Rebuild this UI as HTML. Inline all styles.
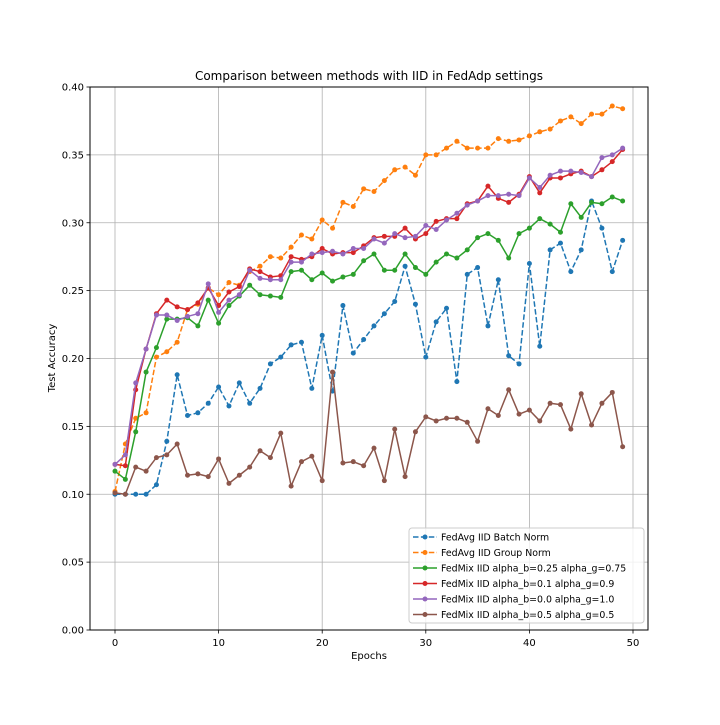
<!DOCTYPE html>
<html><head><meta charset="utf-8"><style>
body{margin:0;background:#fff;font-family:"Liberation Sans","DejaVu Sans",sans-serif}
svg text{font-family:"DejaVu Sans","Liberation Sans",sans-serif}
</style></head><body>
<svg id="chart" width="720" height="720" viewBox="0 0 720 720">
<rect width="720" height="720" fill="#fff"/>
<g id="grid"></g>
<g id="series"></g>
<rect x="90" y="87" width="558" height="543" fill="none" stroke="#000" stroke-width="1"/>
<g id="ticks"></g>
<text x="369" y="80" text-anchor="middle" font-size="12">Comparison between methods with IID in FedAdp settings</text>
<text x="369" y="659" text-anchor="middle" font-size="10">Epochs</text>
<text x="55" y="358" text-anchor="middle" font-size="10" transform="rotate(-90 55 358)">Test Accuracy</text>
<g id="legend"></g>
</svg>
<script>
const xTicks=[0,10,20,30,40,50];
const yTicks=[0.00,0.05,0.10,0.15,0.20,0.25,0.30,0.35,0.40];
const seriesNames=["FedAvg IID Batch Norm","FedAvg IID Group Norm","FedMix IID alpha_b=0.25 alpha_g=0.75","FedMix IID alpha_b=0.1 alpha_g=0.9","FedMix IID alpha_b=0.0 alpha_g=1.0","FedMix IID alpha_b=0.5 alpha_g=0.5"];
const batchNorm=[0.100,0.100,0.100,0.100,0.107,0.139,0.188,0.158,0.160,0.167,0.179,0.165,0.182,0.167,0.178,0.196,0.201,0.210,0.212,0.178,0.217,0.176,0.239,0.204,0.214,0.224,0.233,0.242,0.268,0.240,0.201,0.227,0.237,0.183,0.262,0.267,0.224,0.258,0.202,0.196,0.270,0.209,0.280,0.285,0.264,0.280,0.316,0.296,0.264,0.287];
const groupNorm=[0.102,0.137,0.156,0.160,0.201,0.205,0.212,0.236,0.240,0.252,0.247,0.256,0.254,0.264,0.268,0.275,0.274,0.282,0.291,0.288,0.302,0.296,0.315,0.312,0.325,0.323,0.331,0.339,0.341,0.335,0.350,0.350,0.355,0.360,0.355,0.355,0.355,0.362,0.360,0.361,0.364,0.367,0.369,0.375,0.378,0.373,0.380,0.380,0.386,0.384];
const mix025=[0.117,0.111,0.146,0.190,0.208,0.229,0.229,0.230,0.224,0.243,0.226,0.239,0.246,0.254,0.247,0.246,0.245,0.264,0.265,0.258,0.263,0.257,0.260,0.262,0.272,0.277,0.265,0.265,0.277,0.267,0.262,0.271,0.277,0.274,0.280,0.289,0.292,0.287,0.274,0.292,0.296,0.303,0.299,0.293,0.314,0.304,0.315,0.314,0.319,0.316];
const mix01=[0.122,0.121,0.177,0.207,0.233,0.243,0.238,0.236,0.241,0.252,0.239,0.249,0.253,0.266,0.264,0.260,0.261,0.275,0.273,0.275,0.281,0.277,0.278,0.278,0.283,0.289,0.290,0.290,0.296,0.288,0.292,0.301,0.303,0.303,0.314,0.316,0.327,0.318,0.315,0.321,0.334,0.322,0.333,0.333,0.336,0.338,0.334,0.339,0.345,0.354];
const mix00=[0.122,0.129,0.182,0.207,0.232,0.232,0.228,0.231,0.233,0.255,0.234,0.243,0.247,0.265,0.259,0.258,0.258,0.271,0.271,0.277,0.278,0.279,0.277,0.281,0.281,0.288,0.285,0.292,0.289,0.290,0.298,0.295,0.302,0.307,0.313,0.316,0.320,0.320,0.321,0.320,0.333,0.326,0.335,0.338,0.338,0.337,0.334,0.348,0.350,0.355];
const mix05=[0.101,0.100,0.120,0.117,0.127,0.129,0.137,0.114,0.115,0.113,0.126,0.108,0.114,0.120,0.132,0.127,0.145,0.106,0.124,0.128,0.110,0.190,0.123,0.124,0.121,0.134,0.110,0.148,0.113,0.146,0.157,0.154,0.156,0.156,0.153,0.139,0.163,0.158,0.177,0.159,0.162,0.154,0.167,0.166,0.148,0.174,0.151,0.167,0.175,0.135];
const allSeries=[batchNorm,groupNorm,mix025,mix01,mix00,mix05];
const colors=["#1f77b4","#ff7f0e","#2ca02c","#d62728","#9467bd","#8c564b"];
const dashed=[true,true,false,false,false,false];
const slugs=["fedavg-batch-norm","fedavg-group-norm","fedmix-025-075","fedmix-01-09","fedmix-00-10","fedmix-05-05"];
const NS="http://www.w3.org/2000/svg";
const X0=90,X1=648,Y0=87,Y1=630;
function xs(v){return 115+v*(633-115)/50;}
function ys(v){return 630-v*(630-87)/0.40;}
function mk(tag,at,parent){const e=document.createElementNS(NS,tag);for(const k in at)e.setAttribute(k,at[k]);parent.appendChild(e);return e;}
const grid=document.getElementById('grid'),ticks=document.getElementById('ticks'),ser=document.getElementById('series'),leg=document.getElementById('legend');
xTicks.forEach(t=>{const x=xs(t);
 const g=mk('line',{x1:x,x2:x,y1:Y0,y2:Y1,stroke:'#b0b0b0','stroke-width':0.8},grid);
 
 mk('line',{x1:x,x2:x,y1:Y1,y2:Y1+3.5,stroke:'#000','stroke-width':0.8},ticks);
 const tx=mk('text',{x:x,y:Y1+16,'text-anchor':'middle','font-size':10},ticks);tx.textContent=t;
 });
yTicks.forEach(t=>{const y=ys(t);
 const g=mk('line',{x1:X0,x2:X1,y1:y,y2:y,stroke:'#b0b0b0','stroke-width':0.8},grid);
 
 mk('line',{x1:X0-3.5,x2:X0,y1:y,y2:y,stroke:'#000','stroke-width':0.8},ticks);
 const tx=mk('text',{x:X0-6,y:y+3.5,'text-anchor':'end','font-size':10},ticks);tx.textContent=t.toFixed(2);
 });
allSeries.forEach((d,s)=>{
 const g=mk('g',{},ser);
 
 
 const pts=d.map((v,i)=>xs(i)+','+ys(v)).join(' ');
 const pl=mk('polyline',{points:pts,fill:'none',stroke:colors[s],'stroke-width':1.5,'stroke-dasharray':dashed[s]?'5.5,2.4':'none','stroke-linejoin':'round'},g);
 
 
 d.forEach((v,i)=>{const c=mk('circle',{cx:xs(i),cy:ys(v),r:2.5,fill:colors[s]},g);
  
  });
});
const lb=mk('rect',{x:409,y:528,width:235,height:95,rx:3,fill:'#fff','fill-opacity':0.8,stroke:'#ccc','stroke-width':1},leg);

seriesNames.forEach((n,s)=>{const y=537+s*15.5;
 const g=mk('g',{},leg);
 
 
 mk('line',{x1:413,x2:437,y1:y,y2:y,stroke:colors[s],'stroke-width':1.5,'stroke-dasharray':dashed[s]?'5.5,2.4':'none'},g);
 mk('circle',{cx:425,cy:y,r:2.5,fill:colors[s]},g);
 const t=mk('text',{x:441,y:y+3.5,'font-size':9.4},g);t.textContent=n;});
</script>
</body></html>
